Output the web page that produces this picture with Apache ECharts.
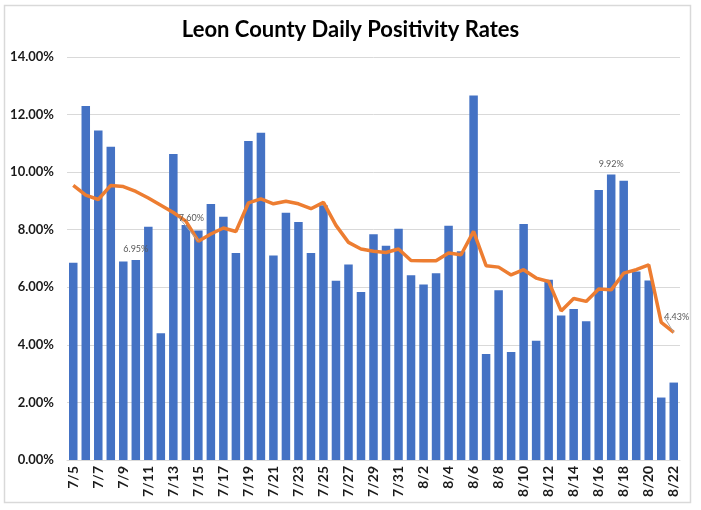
<!DOCTYPE html>
<html>
<head>
<meta charset="utf-8">
<script src="https://cdn.jsdelivr.net/npm/echarts@6/dist/echarts.min.js"></script>
<style>
html,body{margin:0;padding:0;background:#fff;}
#c{width:701px;height:510px;}
</style>
</head>
<body>
<div id="c"></div>
<script>
const categories = ['7/5','7/6','7/7','7/8','7/9','7/10','7/11','7/12','7/13','7/14','7/15','7/16','7/17','7/18','7/19','7/20','7/21','7/22','7/23','7/24','7/25','7/26','7/27','7/28','7/29','7/30','7/31','8/1','8/2','8/3','8/4','8/5','8/6','8/7','8/8','8/9','8/10','8/11','8/12','8/13','8/14','8/15','8/16','8/17','8/18','8/19','8/20','8/21','8/22'];
const dailyRates = [6.85,12.3,11.45,10.88,6.9,6.95,8.1,4.4,10.63,8.16,7.97,8.89,8.45,7.19,11.08,11.37,7.1,8.59,8.27,7.19,8.85,6.23,6.79,5.84,7.84,7.44,8.03,6.42,6.1,6.49,8.14,7.25,12.66,3.68,5.9,3.75,8.2,4.14,6.26,5.02,5.25,4.82,9.38,9.92,9.7,6.55,6.24,2.17,2.69];
const avgRates = [9.54,9.2,9.05,9.54,9.5,9.33,9.1,8.85,8.6,8.3,7.6,7.85,8.06,7.94,8.93,9.07,8.9,8.99,8.9,8.73,8.95,8.15,7.56,7.33,7.25,7.21,7.33,6.93,6.92,6.92,7.19,7.13,7.94,6.75,6.7,6.43,6.61,6.32,6.2,5.18,5.61,5.51,5.94,5.91,6.49,6.61,6.78,4.78,4.43];
const yTicks = {min:0, max:14, interval:2};
const barLabelIdx = [5, 43];
const lineLabelIdx = [10, 48];

const fmt = v => v.toFixed(2) + '%';
const smallLabel = {color:'#595959', fontSize:9, fontFamily:'Lato'};

const barData = dailyRates.map((v,i) => barLabelIdx.includes(i)
  ? {value:v, label:Object.assign({show:true, position:'top', distance:6, formatter:p=>fmt(p.value)}, smallLabel)}
  : v);
const lineData = avgRates.map((v,i) => lineLabelIdx.includes(i)
  ? {value:v, label:Object.assign({show:true, position:'top', distance:5, formatter:p=>fmt(p.value)}, smallLabel)}
  : v);

const chart = echarts.init(document.getElementById('c'), null, {renderer:'canvas'});
chart.setOption({
  animation:false,
  backgroundColor:'#fff',
  title:{
    text:'Leon County Daily Positivity Rates',
    left:'center', top:14,
    textStyle:{fontFamily:'Lato', fontWeight:'bold', fontSize:22, color:'#000'}
  },
  graphic:[{
    type:'rect', shape:{x:4.5, y:5.5, width:686, height:497},
    style:{fill:null, stroke:'#d9d9d9', lineWidth:1.5}, silent:true, z:-1
  }],
  grid:{left:67, right:21, top:57, bottom:50, containLabel:false},
  xAxis:{
    type:'category', data:categories,
    axisLine:{show:true, lineStyle:{color:'#d9d9d9', width:1}},
    axisTick:{show:false},
    axisLabel:{interval:1, rotate:90, fontFamily:'Lato', fontWeight:'bold', fontSize:14, color:'#1a1a1a', margin:6}
  },
  yAxis:{
    type:'value', min:yTicks.min, max:yTicks.max, interval:yTicks.interval,
    axisLine:{show:false}, axisTick:{show:false},
    splitLine:{lineStyle:{color:'#d9d9d9', width:1}},
    axisLabel:{formatter:v=>fmt(v), fontFamily:'Lato', fontWeight:'bold', fontSize:13, color:'#1a1a1a', margin:13}
  },
  series:[
    {type:'bar', data:barData, barWidth:'68%', itemStyle:{color:'#4472C4'}},
    {type:'line', data:lineData, symbol:'circle', symbolSize:0, showSymbol:true,
     itemStyle:{color:'#ED7D31'}, lineStyle:{color:'#ED7D31', width:3.5}, z:3,
     labelLine:{show:true, lineStyle:{color:'#a6a6a6', width:1}},
     labelLayout:function(p){
       if (p.dataIndex === 10) return {dx:-7, dy:-14};
       if (p.dataIndex === 48) return {dx:3, dy:-6};
       return {};
     }}
  ]
});
</script>
</body>
</html>
